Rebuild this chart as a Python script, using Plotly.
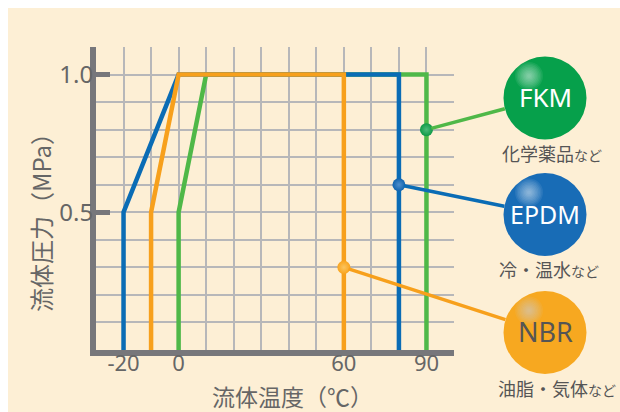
import plotly.graph_objects as go

# ---------------- data ----------------
temp_fkm = [0, 0, 10, 90, 90]
pres_fkm = [0, 0.5, 1.0, 1.0, 0]
temp_epdm = [-20, -20, 0, 80, 80]
pres_epdm = [0, 0.5, 1.0, 1.0, 0]
temp_nbr = [-10, -10, 0, 60, 60]
pres_nbr = [0, 0.5, 1.0, 1.0, 0]

materials = ["FKM", "EPDM", "NBR"]
uses = ["化学薬品", "冷・温水", "油脂・気体"]
marker_temp = [90, 80, 60]
marker_pres = [0.8, 0.6, 0.3]

x_tickvals = [-20, 0, 60, 90]
x_ticktext = ["-20", "0", "60", "90"]
y_tickvals = [0.5, 1.0]
y_ticktext = ["0.5", "1.0"]
x_range = [-30, 100]
y_range = [0, 1.1]

x_title = "流体温度（℃）"
y_title = "流体圧力（MPa）"

# ---------------- styles ----------------
W, H = 620, 412
L, R, T, B = 96, 166, 47, 62
PW, PH = W - L - R, H - T - B

BG = "#fdefd5"
GRID = "#b7b7b9"
AXIS = "#77777b"
TXT = "#666666"
DARK = "#555555"
JP = "Noto Sans CJK JP"

line_colors = {"FKM": "#4fb848", "EPDM": "#0a6cb5", "NBR": "#f7a01c"}
dot_colors = {"FKM": "#0f9a47", "EPDM": "#1064ae", "NBR": "#f9a51f"}
dot_hl = {"FKM": "#4dbb7a", "EPDM": "#4f8fcc", "NBR": "#fbc45e"}
ball_colors = {"FKM": "#06a04b", "EPDM": "#186cb6", "NBR": "#f7a820"}
hl_colors = {"FKM": "255,255,255", "EPDM": "255,255,255", "NBR": "205,220,240"}
label_colors = {"FKM": "white", "EPDM": "white", "NBR": "#555555"}
label_sizes = {"FKM": 26, "EPDM": 25, "NBR": 27}

# label layout (pixel positions)
ball_cx = 545
ball_cy = [98, 214.5, 332.5]
ball_r = 41.5
sub_pos = [(552, 153), (549, 269), (557, 388)]


def pxx(x):
    return (x - L) / PW


def pxy(y):
    return (H - B - y) / PH


def dx(x):
    return x_range[0] + (x - L) / PW * (x_range[1] - x_range[0])


def dy(y):
    return y_range[0] + (H - B - y) / PH * (y_range[1] - y_range[0])


fig = go.Figure()

series = [("FKM", temp_fkm, pres_fkm), ("EPDM", temp_epdm, pres_epdm), ("NBR", temp_nbr, pres_nbr)]
for name, xs, ys in series:
    fig.add_trace(go.Scatter(x=xs, y=ys, mode="lines", line=dict(color=line_colors[name], width=4.5),
                             hoverinfo="skip", showlegend=False))

for i, name in enumerate(materials):
    fig.add_trace(go.Scatter(x=[marker_temp[i]], y=[marker_pres[i]], mode="markers",
                             marker=dict(size=13, color=dot_colors[name], line=dict(width=0),
                                         gradient=dict(type="radial", color=dot_hl[name])),
                             hoverinfo="skip", showlegend=False))

shapes = [dict(type="rect", xref="paper", yref="paper", x0=pxx(8), x1=pxx(W), y0=pxy(H), y1=pxy(8),
               fillcolor=BG, line=dict(width=0), layer="below")]

annotations = []
for i, name in enumerate(materials):
    cy = ball_cy[i]
    # connector
    annotations.append(dict(x=marker_temp[i], y=marker_pres[i], xref="x", yref="y",
                            axref="x", ayref="y", ax=dx(ball_cx), ay=dy(cy), text=" ",
                            font=dict(size=1), showarrow=True, arrowhead=0, arrowwidth=3.5,
                            arrowcolor=line_colors[name], standoff=5, startstandoff=40))
    # ball
    shapes.append(dict(type="circle", xref="paper", yref="paper",
                       x0=pxx(ball_cx - ball_r), x1=pxx(ball_cx + ball_r),
                       y0=pxy(cy + ball_r), y1=pxy(cy - ball_r),
                       fillcolor=ball_colors[name], line=dict(width=0), layer="above"))
    hx, hy = ball_cx - 16, cy - 22
    for rr in [14, 12.5, 11, 9.5, 8, 6.5, 5, 3.5, 2]:
        shapes.append(dict(type="circle", xref="paper", yref="paper",
                           x0=pxx(hx - rr), x1=pxx(hx + rr), y0=pxy(hy + rr), y1=pxy(hy - rr),
                           fillcolor="rgba(%s,0.075)" % hl_colors[name], line=dict(width=0), layer="above"))
    annotations.append(dict(x=pxx(ball_cx), y=pxy(cy - 1), xref="paper", yref="paper", text=name,
                            showarrow=False, font=dict(family="Noto Sans", size=label_sizes[name],
                                                       color=label_colors[name]),
                            xanchor="center", yanchor="middle"))
    sx, sy = sub_pos[i]
    annotations.append(dict(x=pxx(sx), y=pxy(sy), xref="paper", yref="paper",
                            text=uses[i] + '<span style="font-size:14px">など</span>',
                            showarrow=False, font=dict(family=JP, size=18, color=DARK),
                            xanchor="center", yanchor="middle"))

annotations.append(dict(x=pxx(40), y=pxy(217), xref="paper", yref="paper", text=y_title, textangle=-90,
                        showarrow=False, font=dict(family=JP, size=24, color=TXT),
                        xanchor="center", yanchor="middle"))
annotations.append(dict(x=pxx(292), y=pxy(395.5), xref="paper", yref="paper", text=x_title,
                        showarrow=False, font=dict(family=JP, size=23, color=TXT),
                        xanchor="center", yanchor="middle"))

fig.update_layout(
    width=W, height=H, margin=dict(l=L, r=R, t=T, b=B, pad=0),
    paper_bgcolor="white", plot_bgcolor="rgba(0,0,0,0)",
    shapes=shapes, annotations=annotations, showlegend=False,
    xaxis=dict(range=x_range, tickvals=x_tickvals, ticktext=x_ticktext, ticks="",
               showgrid=True, gridcolor=GRID, gridwidth=1.5, zeroline=False,
               showline=True, linecolor=AXIS, linewidth=6, ticklabelstandoff=-11,
               minor=dict(dtick=10, tick0=0, showgrid=True, gridcolor=GRID, gridwidth=1.5, ticks=""),
               tickfont=dict(family="Noto Sans", size=22, color=TXT), fixedrange=True),
    yaxis=dict(range=y_range, tickvals=y_tickvals, ticktext=y_ticktext, ticks="inside",
               ticklen=14, tickwidth=5, tickcolor=AXIS, ticklabelstandoff=-8,
               showgrid=True, gridcolor=GRID, gridwidth=1.5, zeroline=False,
               showline=True, linecolor=AXIS, linewidth=6,
               minor=dict(dtick=0.1, tick0=0, showgrid=True, gridcolor=GRID, gridwidth=1.5, ticks=""),
               tickfont=dict(family="Noto Sans", size=24, color=TXT), fixedrange=True),
)

fig.write_html("out.html")
